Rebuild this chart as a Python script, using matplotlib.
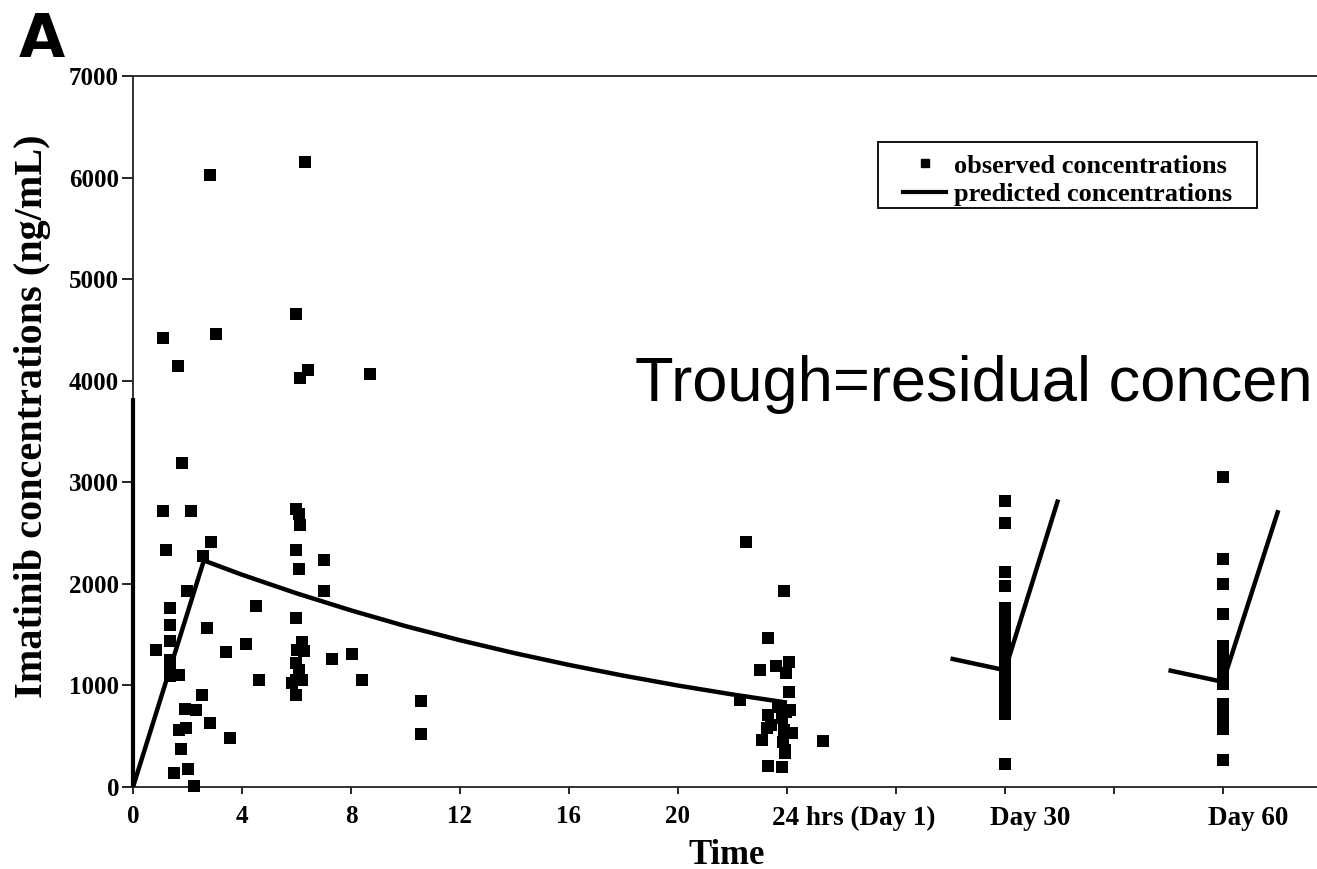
import matplotlib
matplotlib.use("Agg")
import matplotlib.pyplot as plt
from matplotlib.lines import Line2D
from matplotlib.patches import Rectangle

plt.rcParams['font.family'] = ['Liberation Serif', 'DejaVu Serif']
plt.rcParams['font.weight'] = 'bold'

# ---- data ----
# pseudo time axis: hours 0-24, Day 30 placed at 32, Day 60 at 40
obs_time_early = [0.83, 1.11, 1.20, 1.11, 1.65, 1.79, 2.12, 1.36, 1.36, 1.36, 1.36, 1.36, 1.36,
                  1.69, 1.50, 1.76, 1.69, 1.96, 1.92, 2.31, 2.03, 2.24, 2.00, 2.58, 2.87,
                  2.70, 2.52, 2.83, 2.83, 3.05, 3.41, 3.56, 4.15, 4.51, 4.62]
obs_conc_early = [1347, 2713, 2337, 4423, 4142, 3192, 2713, 1766, 1591, 1436, 1254, 1188, 1089,
                  1106, 142, 373, 561, 578, 766, 759, 182, 10, 1925, 2277, 2416,
                  1568, 908, 634, 6024, 4455, 1327, 479, 1410, 1782, 1056]

obs_time_mid = [6.00, 6.13, 6.43, 6.31, 6.00, 6.10, 6.13, 6.00, 6.09, 6.00, 6.19, 6.28, 6.02,
                6.00, 6.10, 6.00, 5.85, 6.19, 6.00, 7.01, 7.01, 7.31, 8.05, 8.42, 8.70,
                10.56, 10.56]
obs_conc_mid = [4660, 4027, 4109, 6149, 2740, 2690, 2581, 2337, 2145, 1660, 1426, 1337, 1347,
                1221, 1155, 1056, 1023, 1056, 908, 2238, 1925, 1261, 1311, 1056, 4066,
                851, 519]

obs_time_24h = [22.50, 23.90, 23.31, 23.00, 23.61, 24.08, 23.96, 24.08, 22.28, 23.68, 23.98,
                23.31, 23.80, 23.40, 23.25, 24.17, 23.07, 23.87, 23.93, 23.93, 25.31, 23.31,
                23.80, 24.10, 23.90]
obs_conc_24h = [2410, 1925, 1469, 1155, 1188, 1228, 1122, 934, 858, 792, 743,
                710, 680, 611, 578, 528, 462, 446, 363, 330, 455, 205,
                198, 760, 560]

obs_conc_day30 = [2812, 2601, 2113, 1974, 1765, 1690, 1610, 1530, 1450, 1370, 1290, 1210,
                  1130, 1050, 970, 890, 810, 750, 716, 231]
obs_conc_day60 = [3053, 2244, 1997, 1700, 1385, 1290, 1195, 1100, 1011, 815, 730, 650, 568, 264]
day30_pos = 32
day60_pos = 40

pred_time_day1 = [0, 2.6, 4, 6, 8, 10, 12, 14, 16, 18, 20, 22, 24]
pred_conc_day1 = [0, 2230, 2090, 1907, 1739, 1584, 1445, 1318, 1202, 1096, 999, 911, 831]
pred_time_day30 = [30.0, 32.0, 33.95]
pred_conc_day30 = [1265, 1150, 2830]
pred_time_day60 = [38.0, 40.0, 42.03]
pred_conc_day60 = [1150, 1035, 2725]

hour_ticks = [0, 4, 8, 12, 16, 20]
hour_labels = ['0', '4', '8', '12', '16', '20']
cat_ticks = [24, 32, 40]
cat_labels = ['24 hrs (Day 1)', 'Day 30', 'Day 60']
minor_cat_ticks = [28, 36]
y_ticks = [0, 1000, 2000, 3000, 4000, 5000, 6000, 7000]

# ---- figure ----
W, H = 1317, 869
fig = plt.figure(figsize=(W / 100, H / 100), dpi=100)
ax = fig.add_axes([133 / W, (H - 787) / H, 1 - 133 / W, (787 - 76) / H])

ax.set_xlim(0, 43.45)
ax.set_ylim(0, 7000)

ms = 8.3
all_t = obs_time_early + obs_time_mid + obs_time_24h + [day30_pos] * len(obs_conc_day30) + [day60_pos] * len(obs_conc_day60)
all_c = obs_conc_early + obs_conc_mid + obs_conc_24h + obs_conc_day30 + obs_conc_day60
ax.plot(all_t, all_c, linestyle='none', marker='s', markersize=ms, color='black',
        markeredgewidth=0, clip_on=False, zorder=3)

lw = 3.2
for tt, cc in [(pred_time_day1, pred_conc_day1), (pred_time_day30, pred_conc_day30),
               (pred_time_day60, pred_conc_day60)]:
    ax.plot(tt, cc, color='black', linewidth=lw, solid_capstyle='butt', zorder=4)

# thick portion of the left axis
ax.plot([0, 0], [0, 3830], color='black', linewidth=3.0, clip_on=False, zorder=5,
        solid_capstyle='butt')

ax.spines['right'].set_visible(False)
for s in ['left', 'top', 'bottom']:
    ax.spines[s].set_linewidth(1.3)
    ax.spines[s].set_color('#222222')

ax.set_yticks(y_ticks)
ax.set_yticklabels([str(v) for v in y_ticks])
ax.set_xticks(hour_ticks + cat_ticks + minor_cat_ticks)
ax.set_xticklabels(hour_labels + [''] * (len(cat_ticks) + len(minor_cat_ticks)))
ax.tick_params(axis='y', direction='out', length=8, width=1.2, pad=2, labelsize=18)
ax.tick_params(axis='x', direction='out', length=5, width=1.2, pad=8, labelsize=18)

for xv, lab in zip(cat_ticks, cat_labels):
    ax.text(xv - 0.55, -0.027, lab, transform=ax.get_xaxis_transform(),
            ha='left', va='top', fontsize=19.5, fontweight='bold')

fig.text(727 / W, (H - 855) / H, 'Time', ha='center', va='center', fontsize=25, fontweight='bold')
fig.text(33 / W, (H - 416) / H, 'Imatinib concentrations (ng/mL)', rotation=90,
         ha='center', va='center', fontsize=29, fontweight='bold')

fig.text(19 / W, (H - 57) / H, 'A', ha='left', va='baseline', fontsize=43,
         fontweight='heavy', family='DejaVu Sans')

ax.text((635 - 133) / 27.25, 3800, 'Trough=residual concen', ha='left', va='baseline',
        fontsize=45.5, fontweight='normal', family='Liberation Sans', clip_on=False, zorder=6)

# legend with a manually drawn frame
frame = Rectangle((878 / W, (H - 208) / H), (1257 - 878) / W, (208 - 142) / H,
                  transform=fig.transFigure, fill=True, facecolor='white',
                  edgecolor='black', linewidth=1.3, zorder=5, clip_on=False)
ax.add_patch(frame)
handles = [Line2D([], [], linestyle='none', marker='s', markersize=6, color='black'),
           Line2D([], [], color='black', linewidth=3)]
leg = ax.legend(handles, ['observed concentrations', 'predicted concentrations'],
                loc='center', bbox_to_anchor=(1067.5 / W, (H - 180) / H),
                bbox_transform=fig.transFigure, borderaxespad=0, frameon=False,
                prop={'family': 'Liberation Serif', 'weight': 'bold', 'size': 19},
                handlelength=1.63, handletextpad=0.27, labelspacing=0.18,
                borderpad=0)
leg.set_zorder(7)

fig.savefig('out.png', dpi=100)
